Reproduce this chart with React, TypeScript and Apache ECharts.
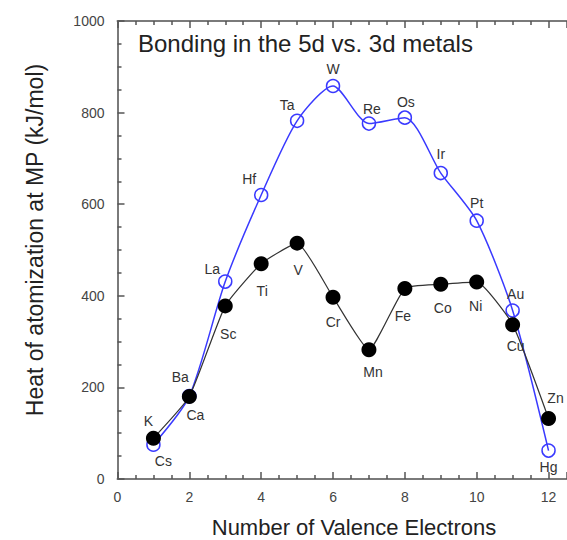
import React, { useEffect, useRef } from "react";
import * as echarts from "echarts";

const electrons = [1, 2, 3, 4, 5, 6, 7, 8, 9, 10, 11, 12];
const metals3d = ["K", "Ca", "Sc", "Ti", "V", "Cr", "Mn", "Fe", "Co", "Ni", "Cu", "Zn"];
const heat3d = [89, 180, 378, 470, 515, 397, 282, 416, 425, 430, 337, 132];
const metals5d = ["Cs", "Ba", "La", "Hf", "Ta", "W", "Re", "Os", "Ir", "Pt", "Au", "Hg"];
const heat5d = [75, 181, 431, 620, 782, 858, 776, 789, 668, 564, 368, 62];
const xTicks = [0, 2, 4, 6, 8, 10, 12];
const yTicks = [0, 200, 400, 600, 800, 1000];

const off3d: [number, number][] = [
  [-5, -17], [6, 18], [3, 28], [1, 27], [1, 27], [0, 25],
  [4, 22], [-2, 28], [2, 24], [-1, 24], [3, 21], [7, -21],
];
const off5d: [number, number][] = [
  [10, 16], [-9, -19], [-13, -13], [-12, -16], [-10, -16], [0, -17],
  [3, -15], [1, -16], [0, -19], [0, -18], [3, -16], [0, 16],
];

const FONT = "Liberation Sans, Arial, Helvetica, sans-serif";

export default function App() {
  const ref = useRef<HTMLDivElement>(null);
  useEffect(() => {
    if (!ref.current) return;
    const chart = echarts.init(ref.current, null, { renderer: "svg" });
    const axisLine = { show: true, lineStyle: { color: "#7a7a7a", width: 2 } };
    const labelStyle = { color: "#444", fontSize: 14, fontFamily: FONT };
    const tick = { show: true, inside: true, length: 7, lineStyle: { color: "#555", width: 1.5 } };
    const minor = { show: true, splitNumber: 4, length: 4, lineStyle: { color: "#555", width: 1.5 } };
    const mkData = (vals: number[], names: string[], offs: [number, number][]) =>
      vals.map((v, i) => ({
        value: [electrons[i], v],
        name: names[i],
        label: { offset: offs[i] },
      }));
    const pointLabel = {
      show: true,
      position: "inside",
      formatter: (p: any) => p.name,
      color: "#333",
      fontSize: 14,
      fontFamily: FONT,
    };
    chart.setOption({
      animation: false,
      backgroundColor: "#fff",
      grid: { left: 117.5, right: 0.5, top: 21, bottom: 61, containLabel: false },
      xAxis: [
        {
          type: "value",
          min: 0,
          max: 12.5,
          interval: 2,
          position: "bottom",
          axisLine,
          axisTick: tick,
          minorTick: minor,
          splitLine: { show: false },
          axisLabel: {
            ...labelStyle,
            margin: 11,
            showMaxLabel: false,
            formatter: (v: number) => (xTicks.includes(v) ? String(v) : ""),
          },
        },
        {
          type: "value",
          min: 0,
          max: 12.5,
          interval: 2,
          position: "top",
          axisLine,
          axisTick: tick,
          minorTick: minor,
          splitLine: { show: false },
          axisLabel: { show: false },
        },
      ],
      yAxis: {
        type: "value",
        min: 0,
        max: 1000,
        interval: 200,
        axisLine,
        axisTick: tick,
        minorTick: minor,
        splitLine: { show: false },
        axisLabel: {
          ...labelStyle,
          margin: 13,
          formatter: (v: number) => (yTicks.includes(v) ? String(v) : ""),
        },
      },
      graphic: [
        {
          type: "text",
          left: 138,
          top: 31,
          style: { text: "Bonding in the 5d vs. 3d metals", fill: "#222", fontSize: 24, fontFamily: FONT },
        },
        {
          type: "text",
          x: 354,
          y: 527,
          style: {
            text: "Number of Valence Electrons",
            fill: "#222",
            fontSize: 22,
            fontFamily: FONT,
            textAlign: "center",
            textVerticalAlign: "middle",
          },
        },
        {
          type: "text",
          x: 35,
          y: 240,
          rotation: Math.PI / 2,
          style: {
            text: "Heat of atomization at MP (kJ/mol)",
            fill: "#222",
            fontSize: 23,
            fontFamily: FONT,
            textAlign: "center",
            textVerticalAlign: "middle",
          },
        },
      ],
      series: [
        {
          name: "5d",
          type: "line",
          smooth: 0.25,
          data: mkData(heat5d, metals5d, off5d),
          symbol: "circle",
          symbolSize: 13,
          lineStyle: { color: "#3a3aff", width: 1.5 },
          itemStyle: { color: "rgba(255,255,255,0)", borderColor: "#3a3aff", borderWidth: 1.5 },
          label: pointLabel,
          z: 3,
        },
        {
          name: "3d",
          type: "line",
          smooth: 0.15,
          data: mkData(heat3d, metals3d, off3d),
          symbol: "circle",
          symbolSize: 15,
          lineStyle: { color: "#333", width: 1.2 },
          itemStyle: { color: "#000", borderWidth: 0 },
          label: pointLabel,
          z: 4,
        },
      ],
    });
    return () => chart.dispose();
  }, []);
  return (
    <div
      ref={ref}
      style={{ position: "fixed", left: 0, top: 0, width: 567, height: 540 }}
    />
  );
}
